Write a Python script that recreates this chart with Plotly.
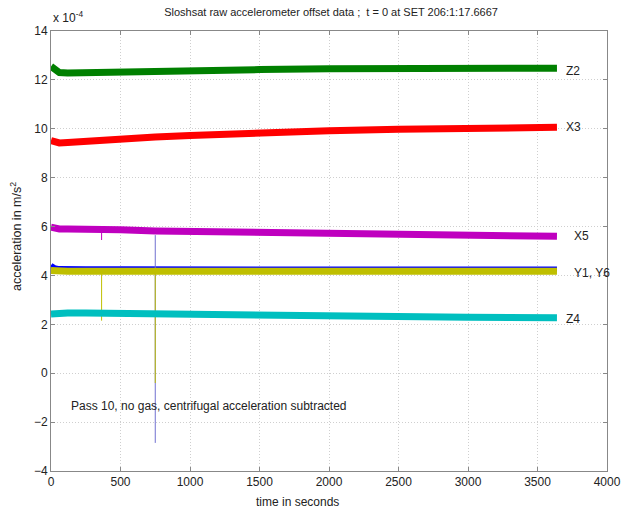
import plotly.graph_objects as go

# time samples (s) and read-off offsets (units of 1e-4 m/s^2)
t = [0, 25, 60, 120, 250, 500, 750, 1000, 1500, 2000, 2500, 3000, 3640]
z2 = [12.55, 12.42, 12.3, 12.28, 12.3, 12.33, 12.35, 12.37, 12.42, 12.46, 12.48, 12.48, 12.48]
x3 = [9.52, 9.45, 9.42, 9.44, 9.5, 9.6, 9.66, 9.72, 9.84, 9.92, 9.98, 10.03, 10.06]
x5 = [5.97, 5.93, 5.9, 5.9, 5.9, 5.87, 5.82, 5.8, 5.76, 5.7, 5.67, 5.63, 5.6]
y1 = [4.42, 4.32, 4.28, 4.27, 4.27, 4.27, 4.27, 4.26, 4.26, 4.26, 4.26, 4.26, 4.26]
y6 = [4.2, 4.18, 4.17, 4.17, 4.17, 4.17, 4.17, 4.17, 4.17, 4.17, 4.17, 4.17, 4.17]
z4 = [2.42, 2.44, 2.45, 2.46, 2.46, 2.44, 2.42, 2.4, 2.39, 2.36, 2.32, 2.29, 2.27]

# isolated glitches: (time, low, high)
spike_x5 = (364, 5.45, 5.9)
spike_y1 = (750, -2.85, 5.65)
spike_y6 = [(364, 2.15, 4.17), (750, -0.4, 4.17)]

labels = ["Z2", "X3", "X5", "Y1, Y6", "Z4"]
label_t = [3690, 3690, 3750, 3750, 3690]
label_v = [12.38, 10.08, 5.6, 4.08, 2.22]

x_ticks = list(range(0, 4001, 500))
y_ticks = list(range(-4, 15, 2))

GREEN = "#008000"
RED = "#ff0000"
MAG = "#bf00bf"
BLUE = "#0000ff"
YEL = "#bfbf00"
CYAN = "#00bfbf"
W = 7

fig = go.Figure()

def band(y, color, w=W):
    fig.add_trace(go.Scatter(x=t, y=y, mode="lines", line=dict(color=color, width=w),
                             showlegend=False, hoverinfo="skip"))

def spike(s, color):
    fig.add_trace(go.Scatter(x=[s[0], s[0]], y=[s[1], s[2]], mode="lines",
                             line=dict(color=color, width=1), showlegend=False, hoverinfo="skip"))

band(z2, GREEN)
band(x3, RED)
band(x5, MAG)
spike(spike_x5, MAG)
band(y1, BLUE, 5)
spike(spike_y1, "#7070d0")
band(y6, YEL)
for s in spike_y6:
    spike(s, YEL)
band(z4, CYAN)

FONT = "Liberation Sans, Arial, sans-serif"
TXT = "#222"
for lab, lt, lv in zip(labels, label_t, label_v):
    fig.add_annotation(x=lt, y=lv, text=lab, showarrow=False, xanchor="left", yanchor="middle",
                       font=dict(size=12, color=TXT, family=FONT))

fig.add_annotation(x=130, y=-1.35, text="Pass 10, no gas, centrifugal acceleration subtracted",
                   showarrow=False, xanchor="left", yanchor="middle",
                   font=dict(size=12, color=TXT, family=FONT))

fig.add_annotation(xref="paper", yref="paper", x=0.0, y=1.0, yshift=4, text="x 10<sup>-4</sup>",
                   showarrow=False, xanchor="left", yanchor="bottom",
                   font=dict(size=12, color=TXT, family=FONT))

fig.add_annotation(xref="paper", yref="paper", x=0.444, y=0, yshift=-22, text="time in seconds",
                   showarrow=False, xanchor="center", yanchor="top",
                   font=dict(size=12, color=TXT, family=FONT))

fig.add_annotation(xref="paper", yref="paper", x=0, xshift=-35, y=0.5, yshift=14,
                   text="acceleration in m/s<sup>2</sup>", textangle=-90,
                   showarrow=False, xanchor="center", yanchor="middle",
                   font=dict(size=12.5, color=TXT, family=FONT))

axis_common = dict(showline=True, linecolor="#888", linewidth=1, mirror="ticks",
                   ticks="inside", ticklen=4, tickcolor="#888",
                   showgrid=True, gridcolor="#cfcfcf", griddash="1px,2px", gridwidth=1,
                   zeroline=False, tickfont=dict(size=12, color=TXT, family=FONT))

fig.update_layout(
    width=633, height=512,
    margin=dict(l=51, r=21, t=31, b=41),
    paper_bgcolor="white", plot_bgcolor="white",
    title=dict(text="Sloshsat raw accelerometer offset data ;  t = 0 at SET 206:1:17.6667",
               x=0.523, xanchor="center", y=0.977, yanchor="middle",
               font=dict(size=11, color=TXT, family=FONT)),
    xaxis=dict(range=[0, 4000], tickvals=x_ticks, **axis_common),
    yaxis=dict(range=[-4, 14], tickvals=y_ticks, **axis_common),
)

fig.write_html("out.html")
